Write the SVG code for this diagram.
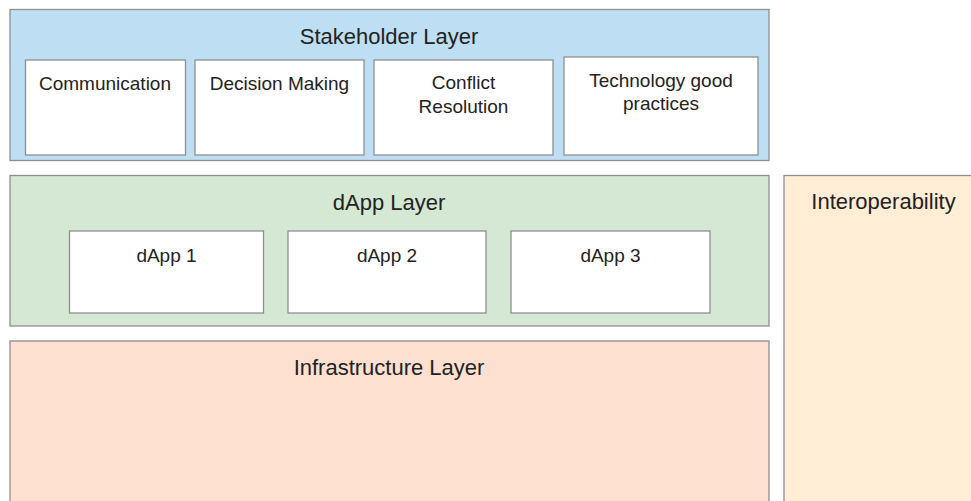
<svg xmlns="http://www.w3.org/2000/svg" width="971" height="501" viewBox="0 0 971 501">
<style>
rect{stroke:#8f8f8f;stroke-width:1.3}
.box{fill:#ffffff}
text{font-family:"Liberation Sans",Arial,sans-serif;fill:#222222;text-anchor:middle}
.t{font-size:22px}
.s{font-size:19px}
</style>
<rect x="0" y="0" width="971" height="501" fill="#ffffff" style="stroke:none"/>
<g id="stakeholder-layer">
<rect x="10" y="9.5" width="759" height="151" fill="#bedff3"/>
<text class="t" x="389" y="44">Stakeholder Layer</text>
</g>
<g id="communication">
<rect class="box" x="25.5" y="60" width="160" height="95"/>
<text class="s" x="105" y="90">Communication</text>
</g>
<g id="decision-making">
<rect class="box" x="195" y="60" width="169" height="95"/>
<text class="s" x="279.5" y="90">Decision Making</text>
</g>
<g id="conflict-resolution">
<rect class="box" x="374" y="60" width="179" height="95"/>
<text class="s" x="463.5" y="89">Conflict</text>
<text class="s" x="463.5" y="113">Resolution</text>
</g>
<g id="technology-good-practices">
<rect class="box" x="564" y="57" width="194" height="98"/>
<text class="s" x="661" y="87">Technology good</text>
<text class="s" x="661" y="110">practices</text>
</g>
<g id="dapp-layer">
<rect x="10" y="175.5" width="759" height="150.5" fill="#d5e8d4"/>
<text class="t" x="389" y="210">dApp Layer</text>
</g>
<g id="dapp1">
<rect class="box" x="69.5" y="231" width="194" height="82"/>
<text class="s" x="166.5" y="262">dApp 1</text>
</g>
<g id="dapp2">
<rect class="box" x="288" y="231" width="198" height="82"/>
<text class="s" x="387" y="262">dApp 2</text>
</g>
<g id="dapp3">
<rect class="box" x="511" y="231" width="199" height="82"/>
<text class="s" x="610.5" y="262">dApp 3</text>
</g>
<g id="infrastructure-layer">
<rect x="10" y="341" width="759" height="175" fill="#fee0d1"/>
<text class="t" x="389" y="375">Infrastructure Layer</text>
</g>
<g id="interoperability">
<rect x="784" y="175.5" width="200" height="340" fill="#ffedd6"/>
<text class="t" x="883.5" y="209">Interoperability</text>
</g>
<g id="connectors"></g>
</svg>
